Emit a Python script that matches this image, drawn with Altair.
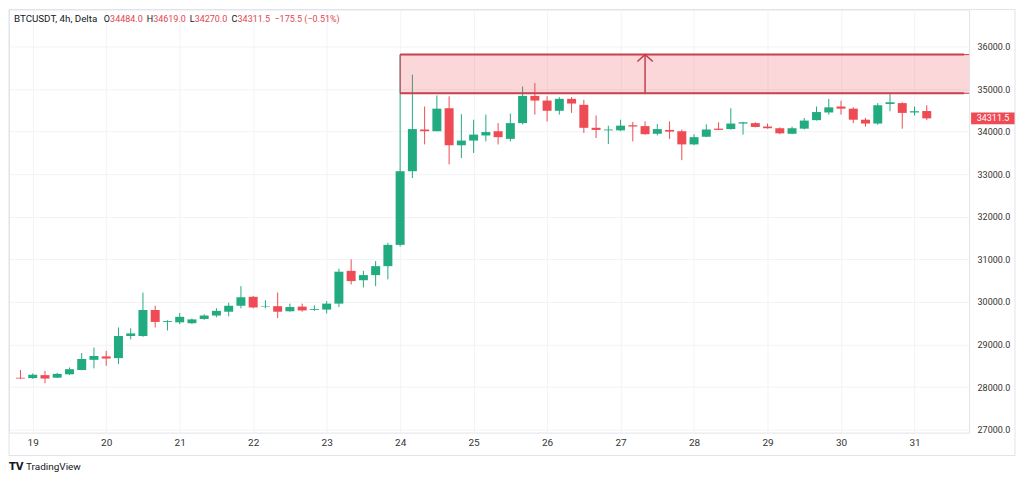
import altair as alt
import pandas as pd

# ---------------- data (BTCUSDT 4h candles, Oct 2023) ----------------
first_candle = "2023-10-18 20:00"
opens = [28220, 28210, 28280, 28220, 28300, 28400, 28640, 28720, 28680, 29200,
         29200, 29810, 29530, 29520, 29500, 29600, 29680, 29770, 29910, 30120,
         29880, 29900, 29780, 29890, 29810, 29820, 29960, 30730, 30510, 30630,
         30840, 31340, 33070, 34050, 34010, 34550, 33680, 33790, 33910, 34010,
         33830, 34200, 34840, 34730, 34490, 34770, 34630, 34090, 34030, 34030,
         34150, 34130, 33950, 34040, 34010, 33700, 33880, 34070, 34060, 34190,
         34200, 34120, 34080, 33950, 34070, 34270, 34450, 34590, 34540, 34280,
         34190, 34650, 34670, 34450, 34484]
highs = [28400, 28320, 28380, 28330, 28460, 28800, 28930, 28850, 29400, 29380,
         30220, 29910, 29570, 29740, 29610, 29710, 29850, 29980, 30370, 30140,
         30040, 30220, 29960, 29960, 29920, 30020, 30780, 31000, 30730, 30960,
         31390, 35810, 35340, 34590, 34850, 34830, 34410, 34280, 34400, 34200,
         34420, 35060, 35140, 34830, 34810, 34810, 34750, 34380, 34140, 34280,
         34230, 34240, 34180, 34240, 34050, 33940, 34170, 34220, 34550, 34230,
         34220, 34190, 34100, 34120, 34320, 34590, 34770, 34730, 34570, 34320,
         34670, 34880, 34690, 34590, 34619]
lows = [28190, 28190, 28090, 28210, 28280, 28400, 28440, 28500, 28540, 29120,
        29180, 29400, 29330, 29480, 29480, 29580, 29640, 29660, 29850, 29850,
        29850, 29620, 29770, 29770, 29790, 29730, 29880, 30410, 30340, 30370,
        30530, 31300, 32910, 33700, 34010, 33230, 33380, 33500, 33770, 33700,
        33770, 34170, 34400, 34240, 34400, 34440, 33970, 33850, 33710, 34010,
        33770, 33930, 33910, 33830, 33330, 33680, 33870, 34040, 34050, 33930,
        34100, 34070, 33940, 33940, 34050, 34260, 34400, 34400, 34200, 34120,
        34160, 34480, 34070, 34380, 34270]
closes = [28200, 28290, 28200, 28310, 28420, 28660, 28730, 28670, 29200, 29260,
          29810, 29530, 29550, 29650, 29590, 29680, 29790, 29910, 30110, 29870,
          29890, 29770, 29880, 29800, 29830, 29960, 30710, 30490, 30630, 30840,
          31340, 33070, 34060, 34010, 34540, 33680, 33790, 33930, 33990, 33870,
          34200, 34840, 34730, 34490, 34770, 34660, 34090, 34040, 34050, 34140,
          34120, 33940, 34060, 34000, 33700, 33870, 34050, 34040, 34190, 34220,
          34110, 34080, 33960, 34080, 34260, 34460, 34570, 34540, 34280, 34190,
          34620, 34690, 34440, 34480, 34311.5]

day_ticks = [19, 20, 21, 22, 23, 24, 25, 26, 27, 28, 29, 30, 31]
price_ticks = [27000, 28000, 29000, 30000, 31000, 32000, 33000, 34000, 35000, 36000]

zone_start_day = 24.0          # rectangle drawn from the 24 Oct 00:00 candle
zone_low, zone_high = 34900, 35810
arrow_day = 27 + 8 / 24        # arrow at 27 Oct 08:00
last_price = 34311.5
last_label = "34311.5"

title_text = "BTCUSDT, 4h, Delta"
ohlc_letters = ["O", "H", "L", "C"]
ohlc_values = ["34484.0", "34619.0", "34270.0", "34311.5"]
change_text = "\u2212175.5 (\u22120.51%)"

# ---------------- build ----------------
GREEN = "#22ab80"
RED = "#ef4b55"
HDR_RED = "#e0464f"
DARK = "#131722"
FONT = "Roboto"
W, H = 962, 424
X_DOM = [18.745, 31.675]
Y_DOM = [26930, 36870]

times = pd.date_range(first_candle, periods=len(opens), freq="4h")
tday = [ts.day + ts.hour / 24 for ts in times]
df = pd.DataFrame({"t": tday, "open": opens, "high": highs, "low": lows, "close": closes})
df["dir"] = ["up" if c >= o else "down" for o, c in zip(opens, closes)]

xs = alt.Scale(domain=X_DOM, nice=False, zero=False)
ys = alt.Scale(domain=Y_DOM, nice=False, zero=False)
col = alt.Color("dir:N", scale=alt.Scale(domain=["up", "down"], range=[GREEN, RED]), legend=None)

x_axis = alt.Axis(values=day_ticks, format="d", title=None, ticks=False, domain=False,
                  labelPadding=5, labelFontSize=10, labelFont=FONT, labelColor="#333333",
                  grid=True, gridColor="#f1f3f6", labelFlush=False)
y_axis = alt.Axis(orient="right", values=price_ticks, format=".1f", title=None, ticks=False,
                  domain=False, labelPadding=8, labelFontSize=9, labelFont=FONT,
                  labelColor="#333333", grid=True, gridColor="#f1f3f6", labelFlush=False)


def X(field):
    return alt.X(field, scale=xs, axis=x_axis)


def Y(field):
    return alt.Y(field, scale=ys, axis=y_axis)


base = alt.Chart(df)
wicks = base.mark_rule(strokeWidth=1).encode(
    x=X("t:Q"), y=Y("low:Q"), y2="high:Q", color=col,
)
bodies = base.mark_bar(size=9).encode(
    x=X("t:Q"), y=Y("open:Q"), y2="close:Q", color=col,
)

zone_df = pd.DataFrame({"x1": [zone_start_day], "x2": [X_DOM[1] + 1],
                        "lo": [zone_low], "hi": [zone_high]})
zone = alt.Chart(zone_df).mark_rect(clip=True, fill="#f23645", fillOpacity=0.2,
                                    stroke="#c9434e", strokeWidth=1).encode(
    x=X("x1:Q"), x2="x2:Q", y=Y("lo:Q"), y2="hi:Q",
)
zone_lines_df = pd.DataFrame({"x1": [zone_start_day, zone_start_day],
                              "x2": [X_DOM[1], X_DOM[1]],
                              "y": [zone_low, zone_high]})
zone_lines = alt.Chart(zone_lines_df).mark_rule(clip=True, color="#c9434e", strokeWidth=2).encode(
    x=X("x1:Q"), x2="x2:Q", y=Y("y:Q"),
)

arrow_df = pd.DataFrame({"t": [arrow_day], "lo": [zone_low], "hi": [zone_high]})
arrow_shaft = alt.Chart(arrow_df).mark_rule(color="#c2414b", strokeWidth=1.5).encode(
    x=X("t:Q"), y=Y("lo:Q"), y2="hi:Q",
)
arrow_head = alt.Chart(arrow_df).mark_point(
    shape="M -1 0.9 L 0 0 L 1 0.9", filled=False, size=240,
    color="#c2414b", strokeWidth=1.5, opacity=1,
).encode(x=X("t:Q"), y=Y("hi:Q"))

tag_df = pd.DataFrame({"p": [last_price], "lo": [last_price - 140], "hi": [last_price + 140],
                       "label": [last_label]})
tag_box = alt.Chart(tag_df).mark_rect(color=RED).encode(
    x=alt.value(W + 2), x2=alt.value(W + 46), y=Y("lo:Q"), y2="hi:Q",
)
tag_text = alt.Chart(tag_df).mark_text(color="white", fontSize=9, font=FONT, align="center",
                                       baseline="middle").encode(
    x=alt.value(W + 24), y=Y("p:Q"), text="label:N",
)


def label(txt, x, y, color, size=10, font=FONT, weight="normal"):
    return alt.Chart(pd.DataFrame({"s": [txt]})).mark_text(
        align="left", baseline="middle", fontSize=size, font=font, color=color,
        fontWeight=weight,
    ).encode(x=alt.value(x), y=alt.value(y), text="s:N")


header_layers = [label(title_text, 5, 10, DARK, size=9.8)]
letter_x = [95, 138, 181, 223]
letter_w = [6.3, 6.5, 5.0, 6.0]
for L, v, lx, lw in zip(ohlc_letters, ohlc_values, letter_x, letter_w):
    header_layers.append(label(L, lx, 10, DARK, size=9))
    header_layers.append(label(v, lx + lw, 10, HDR_RED, size=9))
header_layers.append(label(change_text, 266, 10, HDR_RED, size=9))

frame = alt.Chart(pd.DataFrame({"a": [0]})).mark_rect(
    fill="transparent", stroke="#e0e3eb", strokeWidth=1
).encode(x=alt.value(0), x2=alt.value(1008), y=alt.value(0), y2=alt.value(447))

logo = label("TV", 0, 458, DARK, size=10, font="DejaVu Sans", weight="bold")
brand = label("TradingView", 17, 458, DARK, size=10)

chart = alt.layer(
    wicks, zone, zone_lines, arrow_shaft, arrow_head, bodies,
    tag_box, tag_text, *header_layers, frame, logo, brand
).properties(width=W, height=H, padding=0, background="white").configure_view(
    stroke="#e0e3eb", strokeWidth=1
)

chart.save("out.html", embed_options={"renderer": "svg", "actions": False})
